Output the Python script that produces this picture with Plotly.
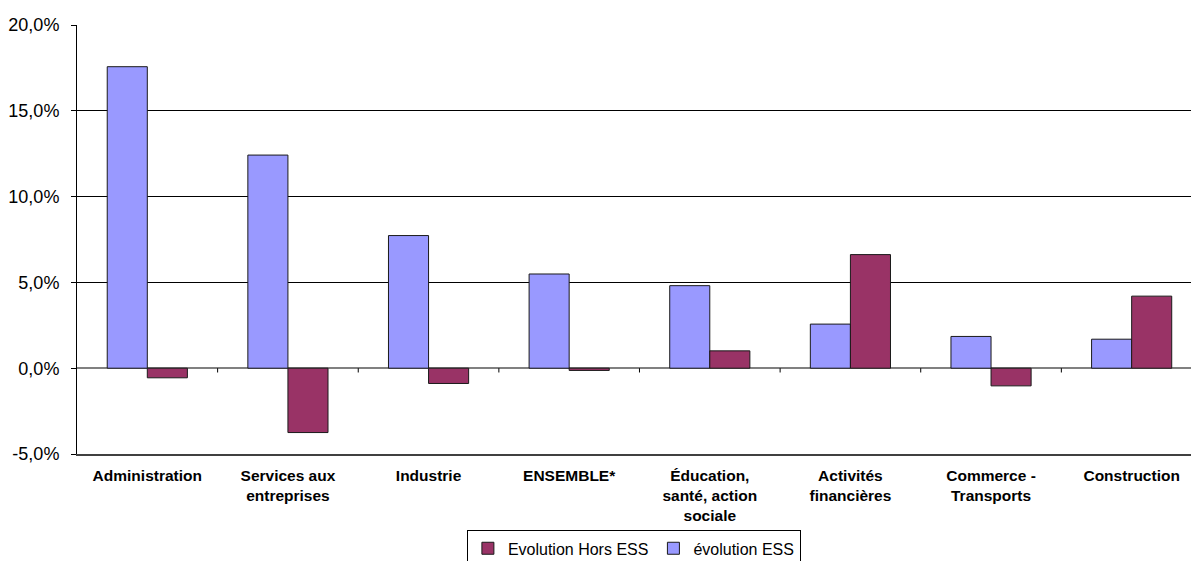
import plotly.graph_objects as go

categories = [
    "Administration",
    "Services aux<br>entreprises",
    "Industrie",
    "ENSEMBLE*",
    "Éducation,<br>santé, action<br>sociale",
    "Activités<br>financières",
    "Commerce -<br>Transports",
    "Construction",
]
evolution_ess = [0.1757, 0.1242, 0.0773, 0.0549, 0.0481, 0.0257, 0.0185, 0.0169]
evolution_hors_ess = [-0.0056, -0.0375, -0.0089, -0.0013, 0.0101, 0.0662, -0.0103, 0.0420]
y_ticks = [-0.05, 0.0, 0.05, 0.10, 0.15, 0.20]
y_tick_labels = ["-5,0%", "0,0%", "5,0%", "10,0%", "15,0%", "20,0%"]

FONT = "Arial, Liberation Sans, sans-serif"

fig = go.Figure()
fig.add_trace(go.Bar(
    name="évolution ESS",
    x=list(range(len(categories))),
    y=evolution_ess,
    marker=dict(color="#9999FF", line=dict(color="#1a1a1a", width=1)),
))
fig.add_trace(go.Bar(
    name="Evolution Hors ESS",
    x=list(range(len(categories))),
    y=evolution_hors_ess,
    marker=dict(color="#993366", line=dict(color="#1a1a1a", width=1)),
))

# small tick marks on the zero line between categories
shapes = []
for i in range(len(categories) - 1):
    shapes.append(dict(
        type="line", xref="x", yref="y",
        x0=i + 0.5, x1=i + 0.5, y0=0, y1=-0.0025,
        line=dict(color="#000000", width=1),
    ))

fig.update_layout(
    width=1191,
    height=561,
    margin=dict(l=77, r=0, t=25, b=107, autoexpand=False),
    paper_bgcolor="white",
    plot_bgcolor="white",
    barmode="group",
    bargap=0.43,
    bargroupgap=0,
    font=dict(family=FONT, color="#000000"),
    shapes=shapes,
    showlegend=True,
    legend=dict(
        orientation="h",
        traceorder="reversed",
        x=0.35, xanchor="left",
        y=-0.178, yanchor="top",
        bordercolor="#000000", borderwidth=1,
        bgcolor="white",
        font=dict(family=FONT, size=16, color="#000000"),
        itemwidth=30,
        tracegroupgap=0,
    ),
    xaxis=dict(
        tickmode="array",
        tickvals=list(range(len(categories))),
        ticktext=[f"<b>{c}</b>" for c in categories],
        range=[-0.5, len(categories) - 0.5 - 0.078],
        showgrid=False,
        zeroline=False,
        showline=True,
        linecolor="#404040",
        linewidth=2,
        ticks="",
        ticklabelstandoff=6,
        tickfont=dict(family=FONT, size=15.5, color="#000000"),
        automargin=False,
        fixedrange=True,
    ),
    yaxis=dict(
        range=[-0.05, 0.20],
        tickmode="array",
        tickvals=y_ticks,
        ticktext=y_tick_labels,
        showgrid=True,
        gridcolor="#000000",
        gridwidth=1,
        zeroline=True,
        zerolinecolor="#808080",
        zerolinewidth=2,
        showline=True,
        linecolor="#000000",
        linewidth=1,
        ticks="outside",
        ticklen=5,
        tickcolor="#000000",
        ticklabelstandoff=8,
        tickfont=dict(family=FONT, size=18, color="#000000"),
        automargin=False,
        fixedrange=True,
    ),
)

fig.write_html(
    "out.html",
    config={"displayModeBar": False},
    post_script="document.body.style.margin='0';document.body.style.overflow='hidden';",
)
